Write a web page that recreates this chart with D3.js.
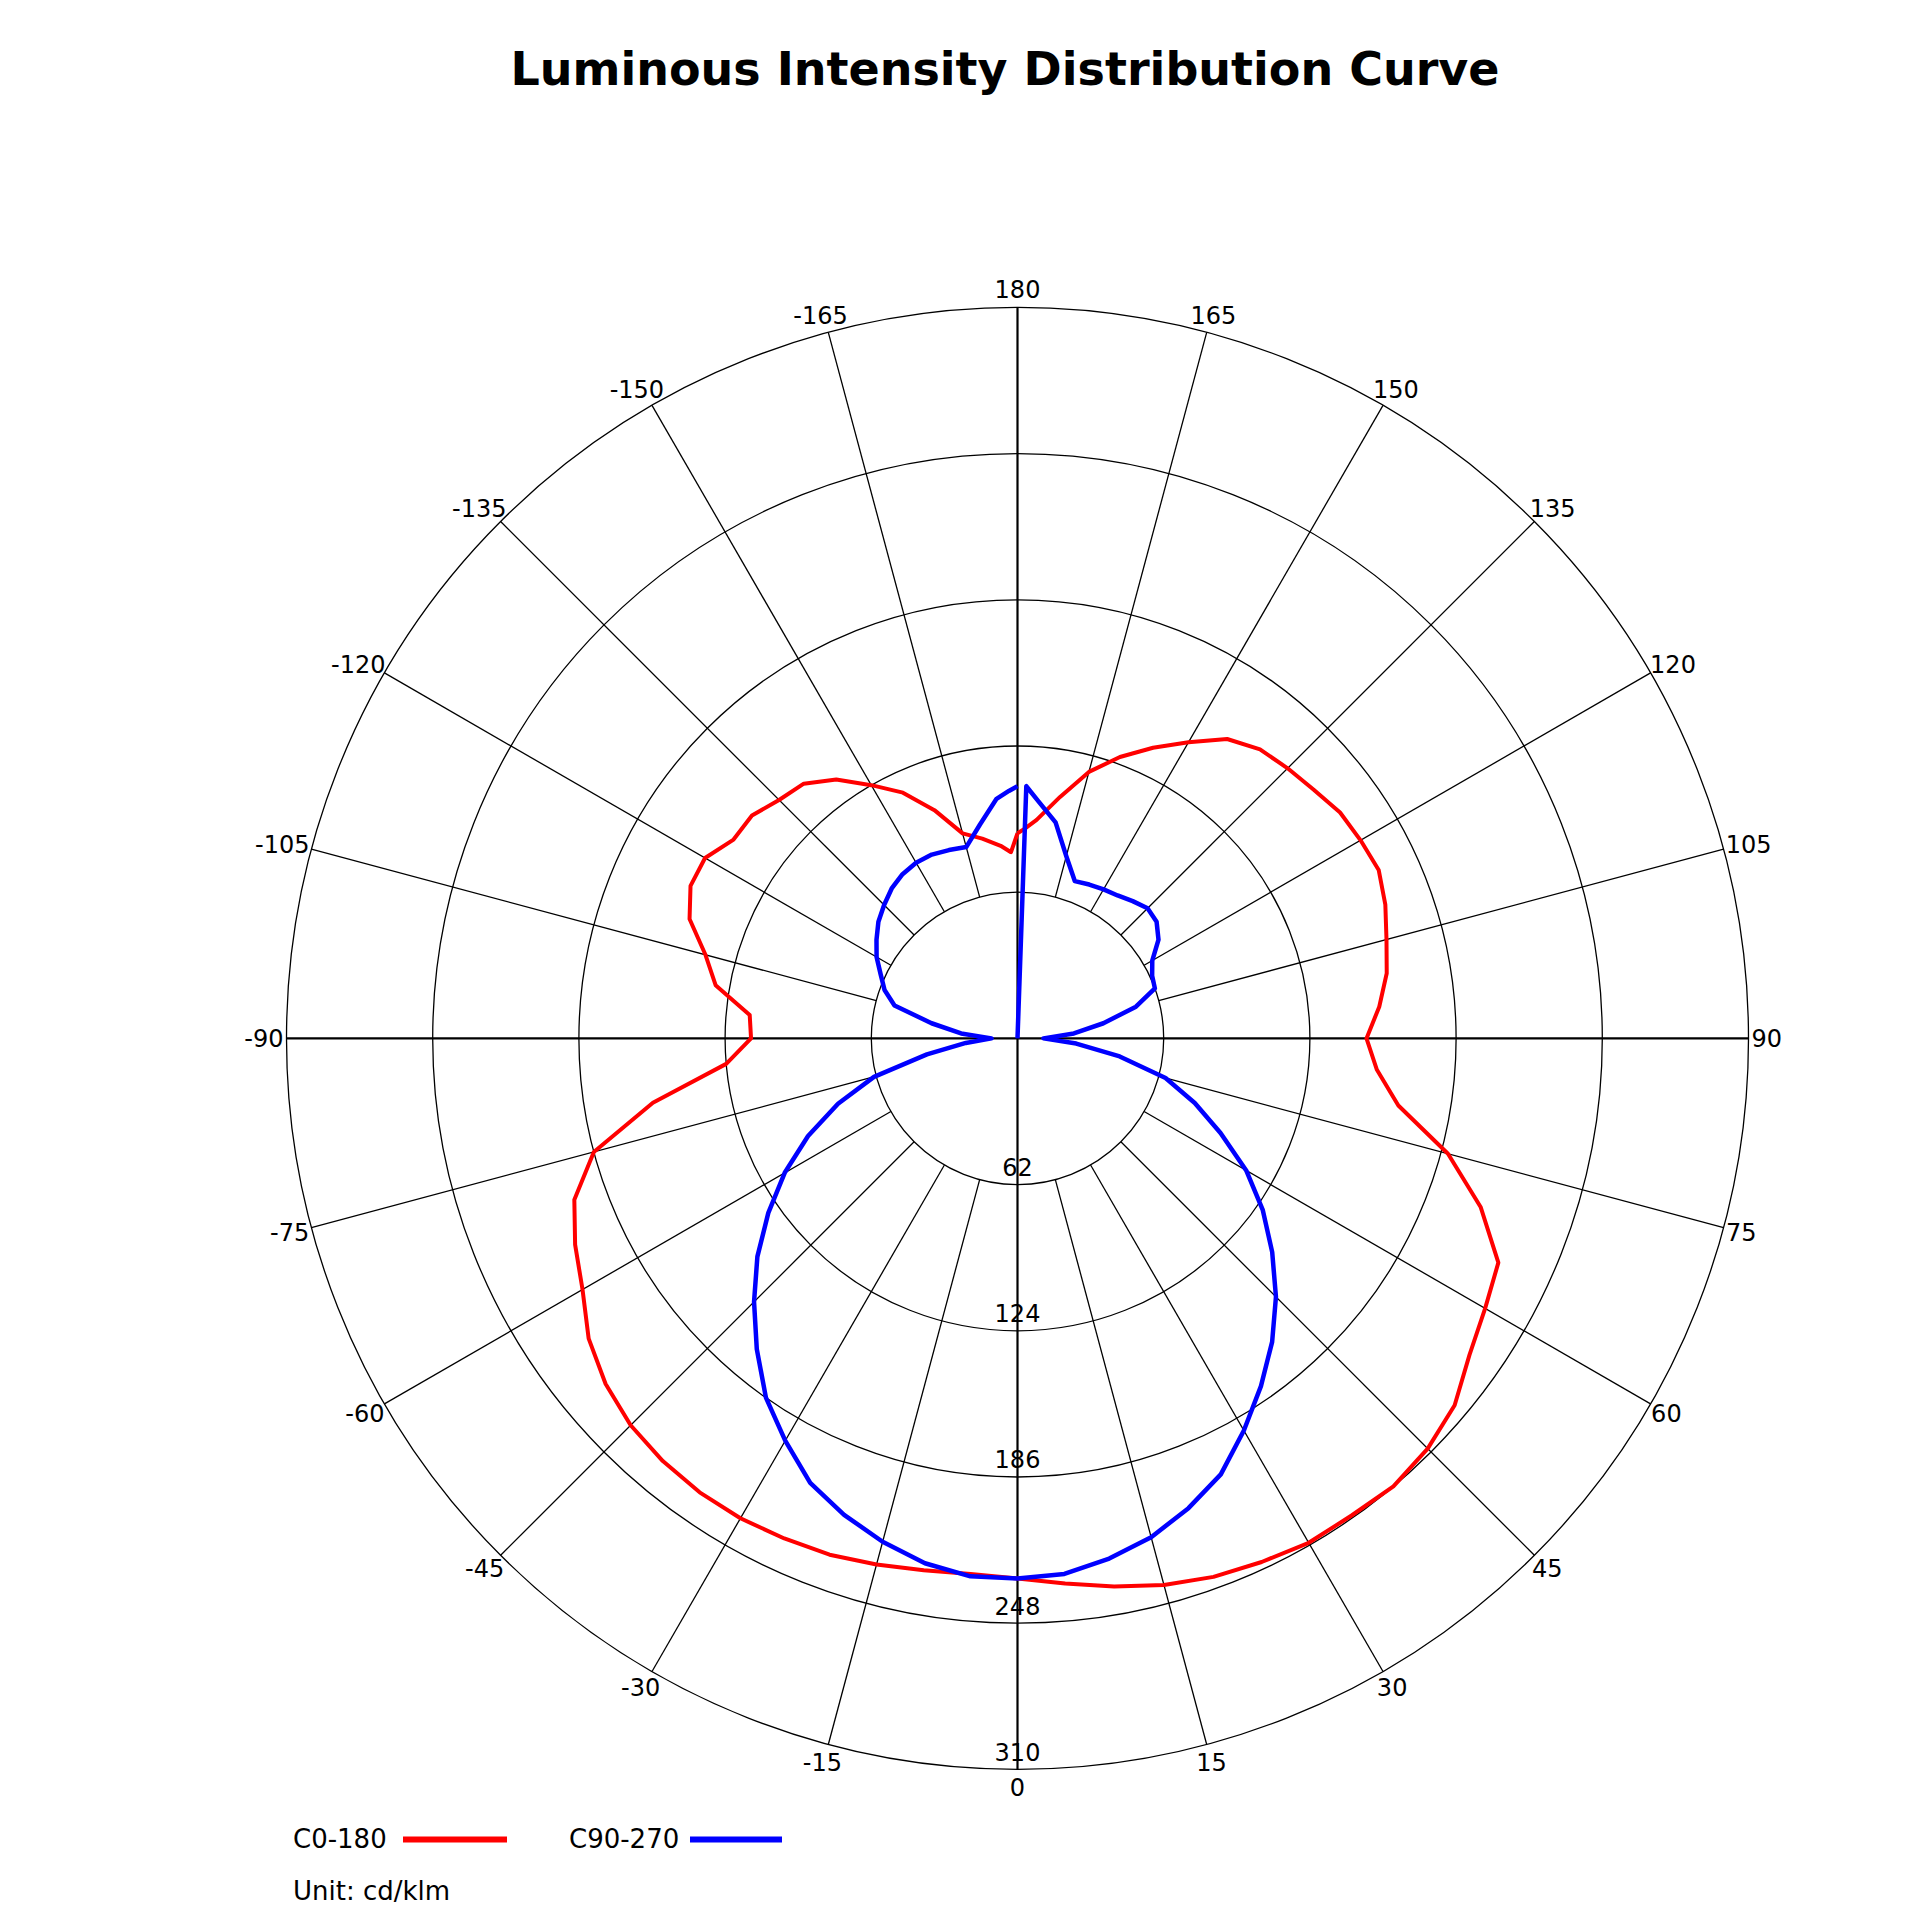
<!DOCTYPE html>
<html>
<head>
<meta charset="utf-8">
<script src="https://cdn.jsdelivr.net/npm/d3@7"></script>
<style>
  body { margin: 0; background: #fff; }
  text { font-family: "DejaVu Sans", Verdana, sans-serif; fill: #000; }
</style>
</head>
<body>
<div class="PolarChart"></div>
<script>
// gamma angles (deg) shared by every C-plane
const gammaAngles = [0, 5, 10, 15, 20, 25, 30, 35, 40, 45, 50, 55, 60, 65, 70, 75, 80, 85, 90,
  95, 100, 105, 110, 115, 120, 125, 130, 135, 140, 145, 150, 155, 160, 165, 170, 175, 178, 180];

// cd/klm
const c0Values = [229, 232, 236, 240, 243, 245, 247, 247, 248, 246, 242, 234, 229, 225, 209, 189, 164, 153, 148,
  154, 159, 162, 166, 169, 168, 167, 164, 162, 160, 155, 145, 136, 127, 117, 104, 93, 89, 87];
const c180Values = [229, 228, 229, 231, 233, 234, 235, 235, 234, 232, 228, 222, 213, 207, 200, 186, 157, 124, 113,
  114, 130, 137, 148, 153, 153, 147, 147, 143, 141, 134, 124, 115, 103, 90, 86, 82, 79, 87];
const c90Values = [229, 228, 224, 219, 212, 204, 192, 180, 168, 155, 141, 127, 112, 95, 80, 65, 44, 25, 11,
  24, 37, 52, 62, 63, 66, 73, 77, 78, 76, 74, 73, 72, 71, 80, 93, 101, 107, 0];
const c270Values = [229, 229, 226, 221, 215, 208, 197, 186, 172, 158, 144, 129, 114, 98, 81, 63, 39, 22, 11,
  24, 37, 54, 60, 64, 69, 73, 77, 80, 83, 85, 86, 86, 85, 84, 92, 102, 105, 107];

const ringTicks = [62, 124, 186, 248, 310];
const angleTicks = [-165, -150, -135, -120, -105, -90, -75, -60, -45, -30, -15, 0,
  15, 30, 45, 60, 75, 90, 105, 120, 135, 150, 165, 180];

const series = [
  { name: "C0-180", color: "#ff0000", left: c180Values, right: c0Values, width: 4 },
  { name: "C90-270", color: "#0000ff", left: c270Values, right: c90Values, width: 4.5 }
];

const width = 1920, height = 1920;
const cx = 1017.5, cy = 1038.4, R = 731;

const svg = d3.select(".PolarChart")
  .append("svg")
  .attr("width", width)
  .attr("height", height);

svg.append("rect").attr("width", width).attr("height", height).attr("fill", "#fff");

const r = d3.scaleLinear().domain([0, 310]).range([0, R]);
const toRad = g => g * Math.PI / 180;

const g = svg.append("g").attr("transform", `translate(${cx},${cy})`);

// rings
g.selectAll(".ring")
  .data(ringTicks)
  .enter()
  .append("circle")
  .attr("r", d => r(d))
  .attr("fill", "none")
  .attr("stroke", "#000")
  .attr("stroke-width", 1.3);

// spokes (start at the first ring)
g.selectAll(".spoke")
  .data(angleTicks.filter(a => a % 90 !== 0))
  .enter()
  .append("line")
  .attr("x1", a => r(62) * Math.sin(toRad(a)))
  .attr("y1", a => r(62) * Math.cos(toRad(a)))
  .attr("x2", a => R * Math.sin(toRad(a)))
  .attr("y2", a => R * Math.cos(toRad(a)))
  .attr("stroke", "#000")
  .attr("stroke-width", 1.3);

// main axes through the centre
g.append("line").attr("x1", 0).attr("y1", -R).attr("x2", 0).attr("y2", R)
  .attr("stroke", "#000").attr("stroke-width", 2.2);
g.append("line").attr("x1", -R).attr("y1", 0).attr("x2", R).attr("y2", 0)
  .attr("stroke", "#000").attr("stroke-width", 2.2);

// ring values along the 0 axis
g.selectAll(".ringLabel")
  .data(ringTicks)
  .enter()
  .append("text")
  .attr("x", 0)
  .attr("y", d => r(d) - 8.5)
  .attr("text-anchor", "middle")
  .style("font-size", "24px")
  .text(d => d);

// angle labels just outside the outer ring
g.selectAll(".angleLabel")
  .data(angleTicks)
  .enter()
  .append("text")
  .style("font-size", "24px")
  .attr("text-anchor", "middle")
  .text(d => d)
  .each(function(a) {
    const w = this.getComputedTextLength();
    const s = Math.sin(toRad(a)), c = Math.cos(toRad(a));
    const x = R * s + (w / 2 + 3) * s;
    const y = R * c + 18 * c;
    d3.select(this).attr("x", x).attr("y", y + 8.7);
  });

// curves: left half (negative gamma) from 180 down to 0, then right half 0..180
const radial = d3.lineRadial()
  .angle(d => Math.PI - toRad(d.gamma))
  .radius(d => r(d.value));

series.forEach(s => {
  const pts = [];
  for (let i = gammaAngles.length - 1; i >= 0; i--) pts.push({ gamma: -gammaAngles[i], value: s.left[i] });
  for (let i = 1; i < gammaAngles.length; i++) pts.push({ gamma: gammaAngles[i], value: s.right[i] });
  g.append("path")
    .datum(pts)
    .attr("d", radial)
    .attr("fill", "none")
    .attr("stroke", s.color)
    .attr("stroke-width", s.width)
    .attr("stroke-linejoin", "round");
});

// title
svg.append("text")
  .attr("x", 1005)
  .attr("y", 85)
  .attr("text-anchor", "middle")
  .style("font-size", "46px")
  .style("font-weight", "bold")
  .text("Luminous Intensity Distribution Curve");

// legend
const legend = [
  { name: "C0-180", color: "#ff0000", x: 293, x1: 403, x2: 507 },
  { name: "C90-270", color: "#0000ff", x: 569, x1: 690, x2: 782 }
];
legend.forEach(l => {
  svg.append("text").attr("x", l.x).attr("y", 1848).style("font-size", "26px").text(l.name);
  svg.append("line").attr("x1", l.x1).attr("x2", l.x2).attr("y1", 1839.5).attr("y2", 1839.5)
    .attr("stroke", l.color).attr("stroke-width", 6);
});

svg.append("text").attr("x", 293).attr("y", 1900).style("font-size", "26px").text("Unit: cd/klm");
</script>
</body>
</html>
